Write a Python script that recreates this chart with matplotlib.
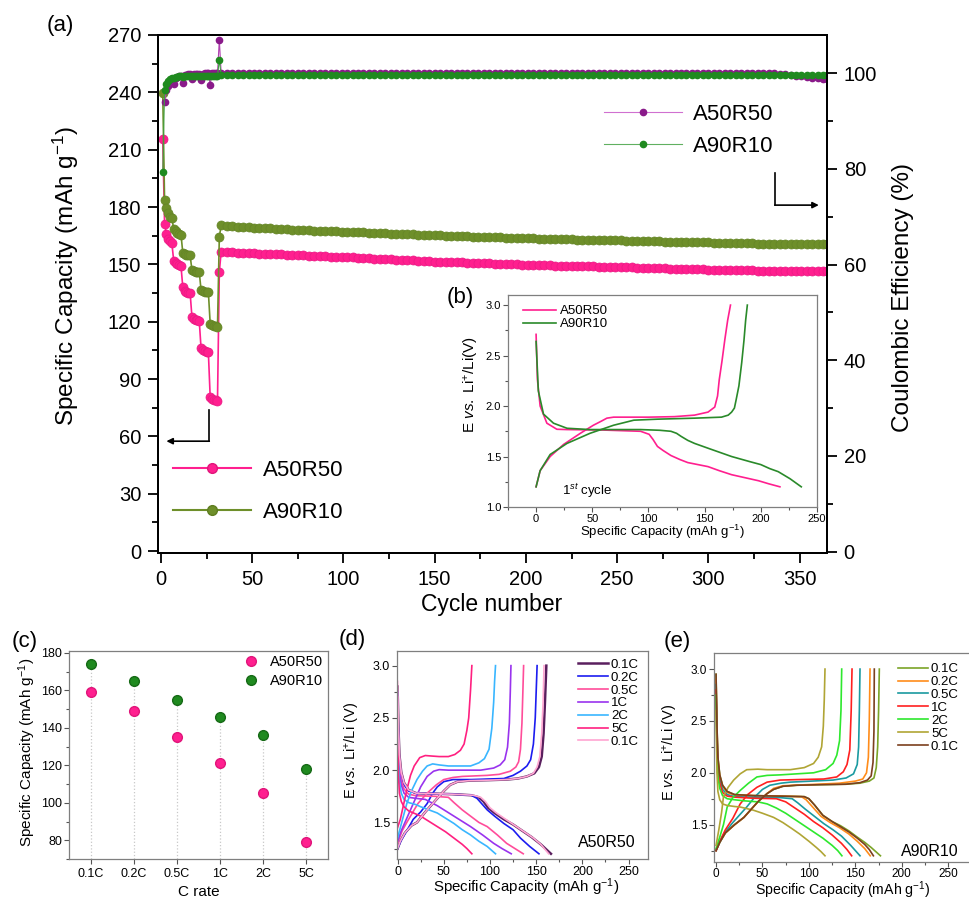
import matplotlib
matplotlib.use('Agg')
import matplotlib.pyplot as plt
from matplotlib.lines import Line2D
from matplotlib.ticker import MultipleLocator

plt.rcParams['font.family'] = ['Liberation Sans', 'DejaVu Sans']
plt.rcParams['mathtext.fontset'] = 'custom'
plt.rcParams['mathtext.rm'] = 'Liberation Sans'
plt.rcParams['mathtext.it'] = 'Liberation Sans:italic'

# ---------------- data: (a) cycling ----------------
cycles_early = list(range(1, 33))
cap_a50_early = [215.7, 171.0, 166.0, 163.5, 162.0, 161.0, 152.0, 150.5, 150.0, 149.5, 149.0,
                 138.0, 136.0, 135.5, 135.0, 135.0, 122.5, 121.5, 121.0, 120.8, 120.5,
                 106.0, 105.0, 104.5, 104.3, 104.0, 80.5, 79.5, 79.0, 78.8, 78.5, 146.0]
cap_a90_early = [239.5, 183.5, 179.6, 177.0, 175.0, 174.0, 168.7, 167.5, 166.5, 166.0, 165.5,
                 156.0, 155.5, 155.0, 155.0, 154.7, 147.0, 146.5, 146.0, 146.0, 146.0,
                 136.5, 136.0, 135.8, 135.5, 135.5, 119.0, 118.3, 118.0, 117.5, 117.3, 164.3]
ce_a50_cycles_early = list(range(2, 33))
ce_a50_early = [94.0, 96.4, 97.4, 98.2, 98.6, 97.8, 99.0, 99.3, 99.4, 99.5, 98.0, 99.6, 99.7,
                99.8, 99.8, 98.7, 99.8, 99.9, 99.9, 99.9, 98.6, 99.9, 100.0, 100.0, 100.0,
                97.6, 100.0, 100.0, 100.0, 100.0, 107.0]
ce_a90_early = [79.3, 96.5, 97.8, 98.4, 98.8, 99.0, 99.1, 99.2, 99.3, 99.4, 99.4, 99.3,
                99.5, 99.5, 99.5, 99.5, 99.5, 99.5, 99.5, 99.5, 99.5, 99.5, 99.5, 99.5,
                99.5, 99.5, 99.5, 99.5, 99.5, 99.5, 99.5, 102.8]

# long-term cycling, read every 3 cycles (33, 36, ... 363) plus the last cycle 365
cycles_long = list(range(33, 364, 3)) + [365]
cap_a50_long = [156.5, 156.4, 156.3, 156.1, 156.0, 155.9, 155.8, 155.6, 155.5, 155.4,
                155.3, 155.2, 155.0, 154.9, 154.8, 154.7, 154.6, 154.4, 154.3, 154.2,
                154.1, 154.0, 153.8, 153.7, 153.6, 153.4, 153.3, 153.2, 153.0, 152.9,
                152.8, 152.6, 152.5, 152.3, 152.2, 152.1, 151.9, 151.8, 151.6, 151.5,
                151.4, 151.3, 151.2, 151.1, 151.0, 150.9, 150.8, 150.7, 150.6, 150.5,
                150.4, 150.3, 150.2, 150.1, 150.0, 149.9, 149.8, 149.7, 149.6, 149.6,
                149.5, 149.4, 149.3, 149.3, 149.2, 149.1, 149.0, 149.0, 148.9, 148.8,
                148.7, 148.7, 148.6, 148.5, 148.4, 148.4, 148.3, 148.2, 148.1, 148.1,
                148.0, 147.9, 147.8, 147.8, 147.7, 147.6, 147.6, 147.5, 147.4, 147.3,
                147.3, 147.2, 147.1, 147.0, 147.0, 146.9, 146.8, 146.8, 146.7, 146.6,
                146.6, 146.5, 146.5, 146.5, 146.4, 146.4, 146.4, 146.4, 146.5, 146.5,
                146.6, 146.6]
cap_a90_long = [170.4, 170.2, 170.0, 169.8, 169.6, 169.4, 169.2, 169.1, 168.9, 168.8,
                168.6, 168.5, 168.4, 168.2, 168.1, 168.0, 167.9, 167.7, 167.6, 167.5,
                167.4, 167.3, 167.1, 167.0, 166.9, 166.8, 166.7, 166.5, 166.4, 166.3,
                166.2, 166.1, 166.0, 165.9, 165.8, 165.7, 165.6, 165.5, 165.4, 165.3,
                165.2, 165.1, 165.0, 164.8, 164.7, 164.6, 164.5, 164.4, 164.4, 164.3,
                164.2, 164.1, 164.0, 163.9, 163.8, 163.8, 163.7, 163.6, 163.5, 163.5,
                163.4, 163.3, 163.2, 163.2, 163.1, 163.0, 162.9, 162.9, 162.8, 162.7,
                162.6, 162.6, 162.5, 162.5, 162.4, 162.3, 162.3, 162.2, 162.1, 162.1,
                162.0, 161.9, 161.9, 161.8, 161.8, 161.7, 161.6, 161.6, 161.5, 161.5,
                161.4, 161.3, 161.3, 161.2, 161.2, 161.1, 161.0, 161.0, 160.9, 160.9,
                160.8, 160.8, 160.8, 160.7, 160.7, 160.7, 160.7, 160.6, 160.6, 160.6,
                160.6, 160.6]
ce_a50_long = [100.1, 100.1, 100.1, 100.1, 100.1, 100.1, 100.1, 100.1, 100.1, 100.1,
               100.1, 100.1, 100.1, 100.1, 100.1, 100.1, 100.1, 100.1, 100.1, 100.1,
               100.1, 100.1, 100.1, 100.1, 100.1, 100.1, 100.1, 100.1, 100.1, 100.1,
               100.1, 100.1, 100.1, 100.1, 100.1, 100.1, 100.1, 100.1, 100.1, 100.1,
               100.1, 100.1, 100.1, 100.1, 100.1, 100.1, 100.1, 100.1, 100.1, 100.1,
               100.1, 100.1, 100.1, 100.1, 100.1, 100.1, 100.1, 100.1, 100.1, 100.1,
               100.1, 100.1, 100.1, 100.1, 100.1, 100.1, 100.1, 100.1, 100.1, 100.1,
               100.1, 100.1, 100.1, 100.1, 100.1, 100.1, 100.1, 100.1, 100.1, 100.1,
               100.1, 100.1, 100.1, 100.1, 100.1, 100.1, 100.1, 100.1, 100.1, 100.1,
               100.1, 100.1, 100.1, 100.1, 100.1, 100.1, 100.1, 100.1, 100.1, 100.1,
               100.1, 100.0, 99.9, 99.8, 99.7, 99.5, 99.4, 99.3, 99.1, 99.0,
               98.9, 98.8]
ce_a90_long = [99.6, 99.6, 99.6, 99.6, 99.6, 99.6, 99.6, 99.6, 99.6, 99.6,
               99.6, 99.6, 99.6, 99.6, 99.6, 99.6, 99.6, 99.6, 99.6, 99.6,
               99.6, 99.6, 99.6, 99.6, 99.6, 99.6, 99.6, 99.6, 99.6, 99.6,
               99.6, 99.6, 99.6, 99.6, 99.6, 99.6, 99.6, 99.6, 99.6, 99.6,
               99.6, 99.6, 99.6, 99.6, 99.6, 99.6, 99.6, 99.6, 99.6, 99.6,
               99.6, 99.6, 99.6, 99.6, 99.6, 99.6, 99.6, 99.6, 99.6, 99.6,
               99.6, 99.6, 99.6, 99.6, 99.6, 99.6, 99.6, 99.6, 99.6, 99.6,
               99.6, 99.6, 99.6, 99.6, 99.6, 99.6, 99.6, 99.6, 99.6, 99.6,
               99.6, 99.6, 99.6, 99.6, 99.6, 99.6, 99.6, 99.6, 99.6, 99.6,
               99.6, 99.6, 99.6, 99.6, 99.6, 99.6, 99.6, 99.6, 99.6, 99.6,
               99.6, 99.6, 99.6, 99.6, 99.6, 99.6, 99.6, 99.6, 99.6, 99.6,
               99.6, 99.6]

# ---------------- data: (b) first cycle ----------------
b_a50_dis = [(0, 2.71), (1.2, 2.26), (3.6, 2.0), (9.6, 1.83), (18.5, 1.77), (27.5, 1.767), (60, 1.762),
             (93, 1.75), (100.6, 1.72), (104, 1.67), (108, 1.60), (113, 1.56), (120, 1.51), (128, 1.47),
             (135, 1.44), (153, 1.40), (163, 1.36), (174, 1.32), (186, 1.29), (198, 1.26), (207, 1.23),
             (217, 1.20)]
b_a50_ch = [(0, 1.20), (3.6, 1.36), (12.5, 1.5), (24.5, 1.62), (39.4, 1.73), (51, 1.81), (58, 1.85),
            (63, 1.88), (69, 1.89), (100, 1.89), (123, 1.895), (141, 1.91), (153, 1.94), (159, 1.99),
            (161.5, 2.1), (163, 2.26), (165.5, 2.45), (168, 2.66), (170.5, 2.85), (173, 3.0)]
b_a90_dis = [(0, 2.64), (2, 2.15), (6.6, 1.92), (15.5, 1.83), (27.5, 1.78), (48, 1.767), (93, 1.767),
             (110, 1.76), (120, 1.75), (125, 1.73), (129, 1.70), (135, 1.66), (141, 1.63), (153.6, 1.58),
             (174, 1.50), (190, 1.45), (200, 1.42), (208, 1.38), (215.5, 1.35), (226, 1.28), (236, 1.20)]
b_a90_ch = [(0, 1.20), (3.6, 1.36), (12.5, 1.52), (27.5, 1.63), (48, 1.73), (69, 1.81), (87, 1.86),
            (108, 1.87), (141, 1.88), (165, 1.89), (171, 1.91), (174, 1.94), (176.5, 1.98), (178, 2.06),
            (180.5, 2.2), (183, 2.43), (185, 2.65), (186.5, 2.85), (188, 3.0)]

# ---------------- data: (c) rate capability ----------------
c_rates = ['0.1C', '0.2C', '0.5C', '1C', '2C', '5C']
c_a50 = [159, 149, 135, 121, 105, 79]
c_a90 = [174, 165, 155, 146, 136, 118]

# ---------------- data: (d) A50R50 profiles ----------------
d_labels = ['0.1C', '0.2C', '0.5C', '1C', '2C', '5C', '0.1C']
d_dis_01 = [(0, 2.80), (1, 2.40), (2, 2.15), (4, 1.98), (7, 1.88), (12, 1.81), (20, 1.78), (40, 1.775), (60, 1.77),
            (80, 1.76), (88, 1.74), (93, 1.70), (98, 1.64), (105, 1.59), (115, 1.53), (125, 1.48), (135, 1.42),
            (145, 1.36), (155, 1.29), (166, 1.20)]
d_ch_01 = [(0, 1.25), (3, 1.32), (8, 1.40), (15, 1.47), (21, 1.50), (30, 1.60), (40, 1.70), (50, 1.80), (57, 1.86),
           (65, 1.89), (78, 1.90), (100, 1.905), (118, 1.91), (130, 1.92), (140, 1.94), (148, 1.97), (153, 2.03),
           (156, 2.13), (158, 2.35), (159.5, 2.65), (161, 3.0)]
d_dis_02 = [(0, 2.75), (1, 2.35), (2, 2.10), (4, 1.95), (7, 1.86), (12, 1.80), (20, 1.78), (40, 1.775), (60, 1.77),
            (80, 1.76), (86, 1.73), (91, 1.68), (97, 1.62), (105, 1.56), (115, 1.49), (125, 1.43), (133, 1.35),
            (143, 1.27), (153, 1.20)]
d_ch_02 = [(0, 1.25), (4, 1.33), (10, 1.42), (17, 1.53), (25, 1.60), (32, 1.68), (38, 1.78), (43, 1.84), (50, 1.89),
           (60, 1.91), (80, 1.91), (115, 1.92), (125, 1.95), (133, 1.99), (140, 2.04), (144, 2.10), (147, 2.25),
           (149, 2.50), (150, 2.75), (151, 3.0)]
d_dis_05 = [(0, 2.70), (1, 2.25), (2, 2.02), (4, 1.90), (7, 1.82), (12, 1.77), (20, 1.755), (40, 1.75), (55, 1.74),
            (61, 1.69), (70, 1.62), (79, 1.56), (88, 1.50), (97, 1.46), (108, 1.38), (118, 1.30), (127, 1.25),
            (136, 1.20)]
d_ch_05 = [(0, 1.30), (5, 1.42), (10, 1.50), (14, 1.56), (22, 1.68), (32, 1.78), (42, 1.86), (50, 1.91), (60, 1.93),
           (70, 1.94), (97, 1.95), (110, 1.96), (122, 1.99), (128, 2.03), (131, 2.08), (133, 2.20), (134.6, 2.45),
           (135.6, 2.75), (136.4, 3.0)]
d_dis_1 = [(0, 2.65), (1, 2.20), (2, 1.98), (4, 1.86), (7, 1.78), (12, 1.74), (20, 1.73), (30, 1.72), (43, 1.66),
           (52, 1.61), (61, 1.56), (70, 1.51), (79, 1.46), (92, 1.38), (104, 1.30), (113, 1.25), (123, 1.20)]
d_ch_1 = [(0, 1.32), (4, 1.42), (8, 1.50), (12, 1.58), (18, 1.70), (25, 1.84), (32, 1.94), (39, 1.99), (45, 2.005),
          (55, 2.0), (68, 2.0), (90, 2.0), (104, 2.02), (111, 2.05), (116, 2.10), (119, 2.22), (121, 2.45),
          (122, 2.75), (122.7, 3.0)]
d_dis_2 = [(0, 2.60), (1, 2.10), (2, 1.90), (4, 1.78), (7, 1.72), (12, 1.69), (20, 1.67), (25, 1.65), (34, 1.62),
           (43, 1.59), (52, 1.54), (61, 1.49), (70, 1.43), (79, 1.38), (88, 1.32), (97, 1.27), (106, 1.20)]
d_ch_2 = [(0, 1.35), (3, 1.45), (6, 1.55), (10, 1.68), (15, 1.80), (21, 1.91), (27, 1.99), (32, 2.04), (38, 2.06),
          (45, 2.05), (55, 2.04), (79, 2.04), (88, 2.07), (94, 2.11), (99, 2.20), (102, 2.40), (104, 2.65),
          (105, 2.85), (106, 3.0)]
d_dis_5 = [(0, 2.50), (1, 1.95), (2, 1.78), (4, 1.70), (7, 1.65), (12, 1.61), (20, 1.58), (25, 1.56), (34, 1.51),
           (43, 1.46), (52, 1.41), (61, 1.35), (70, 1.29), (75, 1.25), (80.4, 1.20)]
d_ch_5 = [(0, 1.45), (3, 1.53), (6, 1.65), (10, 1.81), (14, 1.95), (18, 2.04), (24, 2.12), (30, 2.14), (37, 2.135),
          (45, 2.13), (55, 2.13), (62, 2.15), (68, 2.19), (72, 2.25), (75, 2.38), (77, 2.50), (79, 2.77), (80.4, 3.0)]
d_dis_01b = [(0, 2.85), (1, 2.40), (2, 2.15), (4, 1.98), (7, 1.88), (12, 1.81), (20, 1.78), (40, 1.775), (60, 1.77),
             (82, 1.76), (90, 1.74), (95, 1.70), (100, 1.64), (107, 1.59), (117, 1.53), (127, 1.47), (137, 1.41),
             (147, 1.35), (155, 1.29), (163.5, 1.20)]
d_ch_01b = [(0, 1.25), (3, 1.32), (8, 1.40), (15, 1.47), (21, 1.50), (30, 1.60), (40, 1.70), (50, 1.80), (57, 1.86),
            (65, 1.89), (78, 1.90), (100, 1.905), (118, 1.91), (130, 1.92), (140, 1.94), (147, 1.97), (151, 2.03),
            (154, 2.13), (156, 2.35), (157.5, 2.65), (158.5, 3.0)]

# ---------------- data: (e) A90R10 profiles ----------------
e_labels = ['0.1C', '0.2C', '0.5C', '1C', '2C', '5C', '0.1C']
e_dis_01 = [(0, 2.95), (1, 2.45), (2, 2.15), (4, 1.98), (7, 1.88), (12, 1.82), (20, 1.79), (40, 1.78), (70, 1.775),
            (95, 1.77), (100, 1.75), (106, 1.69), (115, 1.59), (125, 1.53), (134, 1.49), (143, 1.44), (152, 1.38),
            (160, 1.33), (167, 1.28), (172, 1.24), (177, 1.20)]
e_ch_01 = [(0, 1.25), (4, 1.33), (10, 1.42), (20, 1.50), (30, 1.57), (37, 1.64), (45, 1.72), (55, 1.80), (62, 1.84),
           (72, 1.87), (87, 1.88), (110, 1.885), (140, 1.89), (155, 1.90), (165, 1.92), (170, 1.95), (172.5, 2.05),
           (174, 2.25), (175, 2.6), (175.8, 3.0)]
e_dis_02 = [(0, 2.90), (1, 2.40), (2, 2.12), (4, 1.96), (7, 1.87), (12, 1.81), (20, 1.785), (40, 1.78), (70, 1.775),
            (92, 1.77), (97, 1.74), (104, 1.67), (113, 1.58), (123, 1.52), (133, 1.47), (143, 1.41), (152, 1.34),
            (160, 1.27), (166, 1.20)]
e_ch_02 = [(0, 1.25), (4, 1.33), (10, 1.42), (20, 1.50), (30, 1.57), (37, 1.64), (45, 1.72), (55, 1.80), (62, 1.85),
           (72, 1.875), (83, 1.88), (110, 1.89), (133, 1.90), (150, 1.92), (158, 1.94), (162, 2.00), (164, 2.15),
           (165, 2.5), (165.8, 3.0)]
e_dis_05 = [(0, 2.85), (1, 2.35), (2, 2.08), (4, 1.93), (7, 1.84), (12, 1.79), (20, 1.77), (40, 1.765), (70, 1.76),
            (82, 1.75), (88, 1.71), (96, 1.65), (106, 1.58), (116, 1.51), (126, 1.45), (135, 1.39), (145, 1.30),
            (150, 1.25), (155, 1.20)]
e_ch_05 = [(0, 1.25), (4, 1.33), (10, 1.43), (18, 1.52), (26, 1.60), (33, 1.67), (42, 1.77), (50, 1.84), (58, 1.88),
           (70, 1.90), (80, 1.91), (126, 1.93), (140, 1.95), (148, 1.99), (152, 2.08), (153.5, 2.25), (154.3, 2.6),
           (155, 3.0)]
e_dis_1 = [(0, 2.80), (1, 2.30), (2, 2.03), (4, 1.90), (7, 1.81), (12, 1.775), (20, 1.765), (40, 1.755), (65, 1.75),
           (75, 1.72), (85, 1.66), (95, 1.60), (105, 1.53), (115, 1.47), (125, 1.40), (135, 1.32), (141, 1.26),
           (146, 1.20)]
e_ch_1 = [(0, 1.25), (4, 1.34), (10, 1.45), (18, 1.56), (26, 1.70), (34, 1.79), (44, 1.86), (55, 1.91), (69, 1.93),
          (90, 1.935), (116, 1.94), (130, 1.96), (137, 2.01), (141, 2.08), (144, 2.22), (145.5, 2.6), (146.4, 3.0)]
e_dis_2 = [(0, 2.75), (1, 2.20), (2, 1.96), (4, 1.85), (7, 1.78), (12, 1.75), (20, 1.74), (30, 1.73), (45, 1.72),
           (55, 1.70), (65, 1.66), (75, 1.61), (85, 1.55), (95, 1.49), (105, 1.43), (115, 1.37), (125, 1.30),
           (131, 1.25), (135.5, 1.20)]
e_ch_2 = [(0, 1.27), (4, 1.38), (8, 1.50), (12, 1.67), (18, 1.76), (26, 1.83), (35, 1.90), (44, 1.96), (55, 1.975),
          (69, 1.98), (105, 2.0), (118, 2.03), (126, 2.09), (130, 2.17), (133, 2.31), (134.5, 2.6), (135.3, 3.0)]
e_dis_5 = [(0, 2.60), (1, 2.00), (2, 1.82), (4, 1.74), (7, 1.70), (12, 1.685), (20, 1.675), (26, 1.67), (40, 1.64),
           (50, 1.61), (62, 1.57), (72, 1.52), (82, 1.46), (90, 1.41), (100, 1.34), (108, 1.28), (113, 1.24),
           (117.3, 1.20)]
e_ch_5 = [(0, 1.30), (3, 1.45), (6, 1.62), (8, 1.77), (13, 1.86), (19, 1.93), (26, 1.99), (33, 2.03), (45, 2.035),
          (55, 2.03), (80, 2.03), (95, 2.05), (105, 2.09), (110, 2.15), (113.7, 2.25), (115.5, 2.45), (116.5, 2.7),
          (117.3, 3.0)]
e_dis_01b = [(0, 2.95), (1, 2.45), (2, 2.15), (4, 1.98), (7, 1.88), (12, 1.82), (20, 1.79), (40, 1.78), (70, 1.775),
             (95, 1.77), (100, 1.75), (106, 1.69), (115, 1.59), (125, 1.53), (134, 1.48), (143, 1.43), (152, 1.37),
             (160, 1.31), (165, 1.26), (169.4, 1.20)]
e_ch_01b = [(0, 1.25), (4, 1.33), (10, 1.42), (20, 1.50), (30, 1.57), (37, 1.64), (45, 1.72), (55, 1.80), (62, 1.84),
            (72, 1.87), (87, 1.88), (110, 1.885), (140, 1.89), (155, 1.905), (163, 1.93), (167, 1.97), (169, 2.1),
            (170, 2.4), (170.4, 3.0)]

PINK = '#ff1f8f'
OLIVE = '#6e8f2a'
PURPLE = '#8a1a8a'
GREEN = '#1f8a1f'
GREY = '#7f7f7f'

W, H = 970, 899
fig = plt.figure(figsize=(W / 100, H / 100), dpi=100)


def px_axes(l, t, r, b):
    return fig.add_axes([l / W, 1 - b / H, (r - l) / W, (b - t) / H])


def ftext(x, y, s, **kw):
    fig.text(x / W, 1 - y / H, s, ha='center', va='center', **kw)


def small_style(ax, labelsize=9):
    for sp in ax.spines.values():
        sp.set_color(GREY)
        sp.set_linewidth(0.9)
    ax.tick_params(which='both', direction='out', color='#555555', width=0.8, labelsize=labelsize, pad=1.5)
    ax.tick_params(which='major', length=3.5)
    ax.tick_params(which='minor', length=2)


def xy(pts):
    return [p[0] for p in pts], [p[1] for p in pts]


# ================= (a) =================
ax = px_axes(158, 35, 827, 553)
ax2 = ax.twinx()
ax.set_xlim(-1.6, 365)
ax.set_ylim(-1, 270)
ax2.set_ylim(-0.3, 108)

ax.plot(cycles_early + cycles_long, cap_a50_early + cap_a50_long, '-o', color=PINK, lw=1.2,
        ms=6.5, mec='#ea1a84', mew=0.5)
ax.plot(cycles_early + cycles_long, cap_a90_early + cap_a90_long, '-o', color=OLIVE, lw=1.2,
        ms=6.5, mec='#648526', mew=0.5)
ax2.plot(ce_a50_cycles_early + cycles_long, ce_a50_early + ce_a50_long, '-o', color='#b040b0', lw=0.8,
         ms=4.5, mfc=PURPLE, mec=PURPLE)
ax2.plot(cycles_early + cycles_long, ce_a90_early + ce_a90_long, '-o', color='#40a040', lw=0.8,
         ms=4.5, mfc=GREEN, mec=GREEN)

for a in (ax, ax2):
    for sp in a.spines.values():
        sp.set_linewidth(1.4)
ax.xaxis.set_major_locator(MultipleLocator(50))
ax.xaxis.set_minor_locator(MultipleLocator(25))
ax.yaxis.set_major_locator(MultipleLocator(30))
ax.yaxis.set_minor_locator(MultipleLocator(15))
ax2.yaxis.set_major_locator(MultipleLocator(20))
ax2.yaxis.set_minor_locator(MultipleLocator(10))
for a in (ax, ax2):
    a.tick_params(which='both', direction='out', width=1.3, labelsize=14.5, pad=5)
    a.tick_params(which='major', length=7)
    a.tick_params(which='minor', length=4)

# guide arrows
ax.plot([26.3, 26.3], [73.7, 57.5], color='k', lw=1.2)
ax.annotate('', xy=(3.0, 57.5), xytext=(26.5, 57.5),
            arrowprops=dict(arrowstyle='-|>', color='k', lw=1.2, mutation_scale=9, shrinkA=0, shrinkB=0))
ax.plot([336.6, 336.6], [197.6, 181.0], color='k', lw=1.2)
ax.annotate('', xy=(360.5, 181.0), xytext=(336.4, 181.0),
            arrowprops=dict(arrowstyle='-|>', color='k', lw=1.2, mutation_scale=9, shrinkA=0, shrinkB=0))

h1 = [Line2D([], [], color=PINK, lw=1.5, marker='o', ms=7, mec='#e0157a'),
      Line2D([], [], color=OLIVE, lw=1.5, marker='o', ms=7, mec='#5e7d20')]
fig.legend(h1, ['A50R50', 'A90R10'], loc='upper left', bbox_to_anchor=(173 / W, 1 - 460 / H),
           frameon=False, fontsize=16, borderpad=0, borderaxespad=0, handlelength=3.5,
           handletextpad=0.55, labelspacing=0.95)
h2 = [Line2D([], [], color='#d070d0', lw=0.8, marker='o', ms=4.5, mfc=PURPLE, mec=PURPLE),
      Line2D([], [], color='#60b060', lw=0.8, marker='o', ms=4.5, mfc=GREEN, mec=GREEN)]
fig.legend(h2, ['A50R50', 'A90R10'], loc='upper left', bbox_to_anchor=(604 / W, 1 - 104 / H),
           frameon=False, fontsize=16, borderpad=0, borderaxespad=0, handlelength=3.5,
           handletextpad=0.5, labelspacing=0.5)

ftext(60, 25, '(a)', fontsize=16)
ftext(66, 276, 'Specific Capacity (mAh g$^{-1}$)', fontsize=17.5, rotation=90)
ftext(492, 605, 'Cycle number', fontsize=16.5)
ftext(903, 298, 'Coulombic Efficiency (%)', fontsize=17.5, rotation=90)

# ================= (b) inset =================
axb = px_axes(508, 295, 817, 507)
axb.plot(*xy(b_a50_dis), color=PINK, lw=1.2)
axb.plot(*xy(b_a50_ch), color=PINK, lw=1.2, label='A50R50')
axb.plot(*xy(b_a90_dis), color='#2a8a2a', lw=1.2)
axb.plot(*xy(b_a90_ch), color='#2a8a2a', lw=1.2, label='A90R10')
axb.set_xlim(-25, 250)
axb.set_ylim(1.0, 3.1)
small_style(axb, 8)
axb.xaxis.set_major_locator(MultipleLocator(50))
axb.xaxis.set_minor_locator(MultipleLocator(25))
axb.yaxis.set_major_locator(MultipleLocator(0.5))
axb.yaxis.set_minor_locator(MultipleLocator(0.25))
axb.legend(loc='upper left', bbox_to_anchor=((523 - 508) / 309, 1 - (305 - 295) / 212), frameon=False,
           fontsize=9.5, borderpad=0, borderaxespad=0, handlelength=2.5, handletextpad=0.3, labelspacing=0.05)
axb.text(23, 1.16, '1$^{st}$ cycle', fontsize=9.5, va='center')
ftext(460, 297, '(b)', fontsize=16)
ftext(472, 385, 'E $\\mathit{vs.}$ Li$^{+}$/Li(V)', fontsize=11, rotation=90)
ftext(662, 532, 'Specific Capacity (mAh g$^{-1}$)', fontsize=9.5)

# ================= (c) =================
axc = px_axes(69, 651, 328, 859)
cx = list(range(len(c_rates)))
axc.set_xlim(-0.5, 5.5)
axc.set_ylim(70, 181)
axc.vlines(cx, 70, c_a90, colors='#c8c8c8', linestyles=':', lw=0.9, zorder=1)
axc.plot(cx, c_a50, 'o', color=PINK, ms=7, mec='#e0157a', label='A50R50', zorder=3)
axc.plot(cx, c_a90, 'o', color=GREEN, ms=7, mec='#166a16', label='A90R10', zorder=3)
small_style(axc, 9)
axc.set_xticks(cx)
axc.set_xticklabels(c_rates)
axc.yaxis.set_major_locator(MultipleLocator(20))
axc.yaxis.set_minor_locator(MultipleLocator(10))
axc.tick_params(axis='x', pad=3)
axc.legend(loc='upper left', bbox_to_anchor=((244 - 69) / 259, 1 - (655 - 651) / 208), frameon=False,
           fontsize=10.5, borderpad=0, borderaxespad=0, handlelength=1.0, handletextpad=0.8,
           labelspacing=0.35, numpoints=1)
ftext(25, 642, '(c)', fontsize=16)
ftext(27, 752, 'Specific Capacity (mAh g$^{-1}$)', fontsize=11, rotation=90)
ftext(199, 892, 'C rate', fontsize=11)

# ================= (d) =================
axd = px_axes(397, 651, 648, 859)
d_colors = ['#5a1f5e', '#1c1cf0', '#ff4d9a', '#9933ee', '#39b6ff', '#ff2080', '#ffa6d2']
d_widths = [1.8, 1.2, 1.2, 1.2, 1.2, 1.2, 1.2]
d_dis = [d_dis_01, d_dis_02, d_dis_05, d_dis_1, d_dis_2, d_dis_5, d_dis_01b]
d_ch = [d_ch_01, d_ch_02, d_ch_05, d_ch_1, d_ch_2, d_ch_5, d_ch_01b]
for lab, col, lw, dis, ch in zip(d_labels, d_colors, d_widths, d_dis, d_ch):
    axd.plot(*xy(dis), color=col, lw=lw)
    axd.plot(*xy(ch), color=col, lw=lw, label=lab)
axd.set_xlim(-0.6, 271)
axd.set_ylim(1.15, 3.14)
small_style(axd, 9)
axd.xaxis.set_major_locator(MultipleLocator(50))
axd.xaxis.set_minor_locator(MultipleLocator(25))
axd.yaxis.set_major_locator(MultipleLocator(0.5))
axd.yaxis.set_minor_locator(MultipleLocator(0.25))
axd.legend(loc='upper left', bbox_to_anchor=((578 - 397) / 251, 1 - (658.5 - 651) / 208), frameon=False,
           fontsize=9.5, borderpad=0, borderaxespad=0, handlelength=2.3, handletextpad=0.2, labelspacing=0.05)
axd.text(0.95, 0.08, 'A50R50', transform=axd.transAxes, fontsize=11.5, ha='right', va='center')
ftext(352, 640, '(d)', fontsize=16)
ftext(353, 750, 'E $\\mathit{vs.}$ Li$^{+}$/Li (V)', fontsize=10.5, rotation=90)
ftext(526, 887, 'Specific Capacity (mAh g$^{-1}$)', fontsize=10.8)

# ================= (e) =================
axe = px_axes(714, 653, 975, 862)
e_colors = ['#7ba428', '#ff8c1a', '#1a9aa0', '#ff2020', '#2ee82e', '#b0a535', '#7b3f1e']
e_dis = [e_dis_01, e_dis_02, e_dis_05, e_dis_1, e_dis_2, e_dis_5, e_dis_01b]
e_ch = [e_ch_01, e_ch_02, e_ch_05, e_ch_1, e_ch_2, e_ch_5, e_ch_01b]
for lab, col, dis, ch in zip(e_labels, e_colors, e_dis, e_ch):
    axe.plot(*xy(dis), color=col, lw=1.2)
    axe.plot(*xy(ch), color=col, lw=1.2, label=lab)
axe.set_xlim(-2.2, 278.8)
axe.set_ylim(1.14, 3.155)
small_style(axe, 8.5)
axe.tick_params(axis='x', pad=1)
axe.xaxis.set_major_locator(MultipleLocator(50))
axe.xaxis.set_minor_locator(MultipleLocator(25))
axe.yaxis.set_major_locator(MultipleLocator(0.5))
axe.yaxis.set_minor_locator(MultipleLocator(0.25))
axe.legend(loc='upper left', bbox_to_anchor=((898 - 714) / 261, 1 - (663 - 653) / 209), frameon=False,
           fontsize=9.5, borderpad=0, borderaxespad=0, handlelength=2.3, handletextpad=0.2, labelspacing=0.05)
axe.text(930 / W, 1 - 852 / H, 'A90R10', transform=fig.transFigure, fontsize=11.5, ha='center', va='center')
ftext(677, 642, '(e)', fontsize=16)
ftext(671, 752, 'E $\\mathit{vs.}$ Li$^{+}$/Li (V)', fontsize=10.5, rotation=90)
ftext(843, 890, 'Specific Capacity (mAh g$^{-1}$)', fontsize=10.2)

fig.savefig('out.png', dpi=100)
